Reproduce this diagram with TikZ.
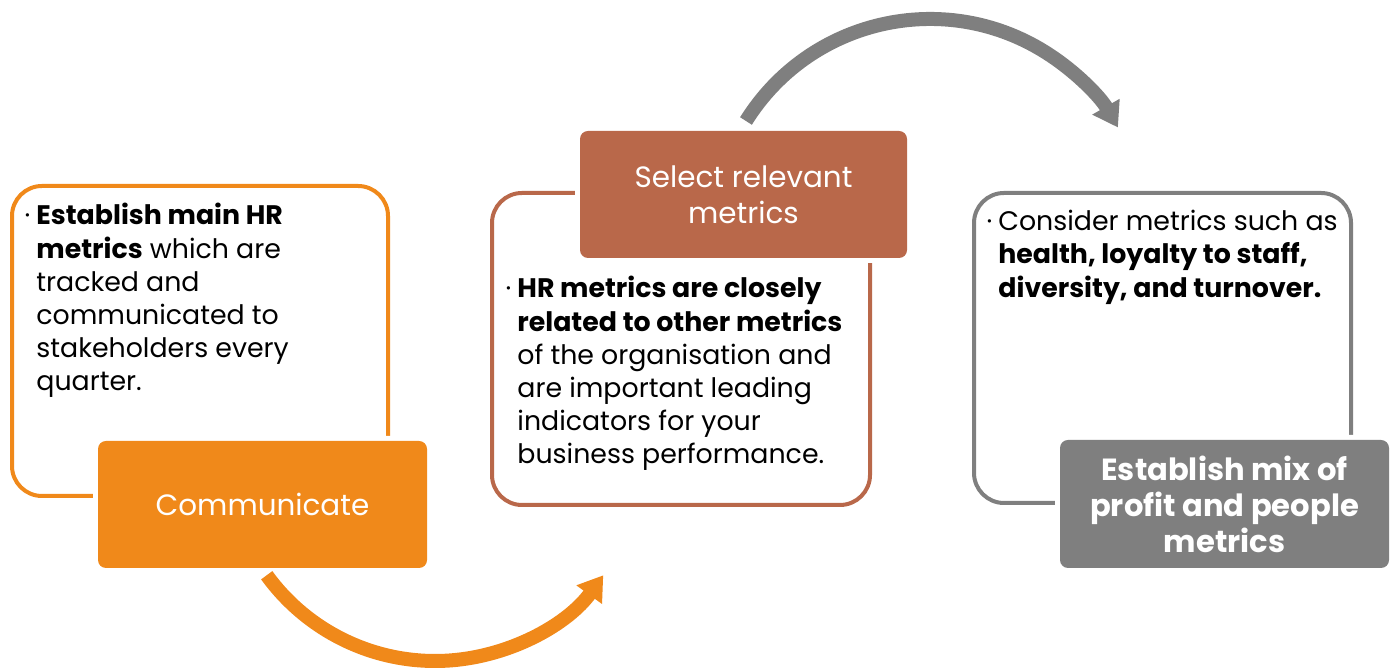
\documentclass[tikz,border=0pt]{standalone}
\usepackage{fontspec}
\setmainfont{Poppins}
\usepackage{tikz}
\usetikzlibrary{positioning}
\usetikzlibrary{arrows.meta}
\definecolor{hrorange}{HTML}{F0891A}
\definecolor{hrbrown}{HTML}{B9684A}
\definecolor{hrgray}{HTML}{7F7F7F}
\newcommand{\hrdot}{\llap{\textperiodcentered\hspace{3pt}}}

\begin{document}
\begin{tikzpicture}[x=0.5pt,y=0.5pt,
  frame/.style={draw=#1, line width=2pt, rounded corners=15pt, inner sep=0pt},
  stage/.style={fill=#1, preaction={draw=white, line width=5pt}, rounded corners=4pt,
    text=white, align=center, inner sep=0pt, font=\fontsize{14.7}{18}\selectfont},
  bullets/.style={anchor=north west, align=left, inner sep=0pt, font=\fontsize{13.4}{16.6}\selectfont},
  loop/.style={draw=#1, line width=7pt, -{Triangle[width=15pt,length=12pt]}}]
  \useasboundingbox (0,0) rectangle (1395,672);
  \node(leftframe) [frame=hrorange, minimum width=188pt, minimum height=155pt] at (200,331) {};
  \node(midframe) [frame=hrbrown, minimum width=189pt, minimum height=156pt] at (681,323) {};
  \node(rightframe) [frame=hrgray, minimum width=188.5pt, minimum height=155pt] at (1162.5,324) {};
  \node(communicate) [stage=hrorange, minimum width=164.5pt, minimum height=63.5pt] at (262.5,167.5) {Communicate};
  \node(select) [stage=hrbrown, minimum width=163.5pt, minimum height=63.5pt] at (743.5,477.5) {Select relevant\\metrics};
  \node(establish) [stage=hrgray, minimum width=164.5pt, minimum height=64pt, font=\fontsize{15.3}{18}\selectfont\bfseries] at (1224.5,168) {Establish mix of\\profit and people\\metrics};
  \node(lefttext) [bullets] at (36,469) {\hrdot\textbf{Establish main HR}\\\textbf{metrics} which are\\tracked and\\communicated to\\stakeholders every\\quarter.};
  \node(midtext) [bullets] at (517,396) {\hrdot\textbf{HR metrics are closely}\\\textbf{related to other metrics}\\of the organisation and\\are important leading\\indicators for your\\business performance.};
  \node(righttext) [bullets] at (998,462) {\hrdot Consider metrics such as\\\textbf{health, loyalty to staff,}\\\textbf{diversity, and turnover.}};
  \coordinate(orangestart) at ([shift={(216:208)}]435,219);
  \coordinate(graystart) at ([shift={(148:217)}]930,436);
  \draw[loop=hrorange] (orangestart) arc[start angle=216, end angle=324, radius=208];
  \draw[loop=hrgray] (graystart) arc[start angle=148, end angle=30, radius=217];
\end{tikzpicture}
\end{document}
